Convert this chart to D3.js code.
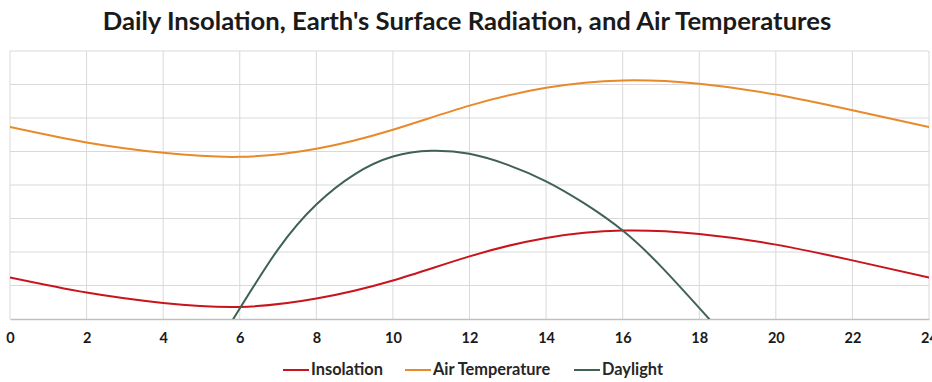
<!DOCTYPE html>
<html lang="en">
<head>
    <meta charset="UTF-8">
    <title>Daily Insolation, Earth's Surface Radiation, and Air Temperatures</title>
    <style>
        body, html {
            margin: 0;
            padding: 0;
            background-color: #fff;
            overflow: hidden;
        }
        #svg text {
            font-family: "Lato", "Open Sans", Arial, sans-serif;
        }
    </style>
</head>
<body>
    <svg id="svg" width="932" height="382"></svg>
    <script src="https://d3js.org/d3.v7.min.js"></script>
    <script>
        // data (hours of the day, relative units)
        const hourTicks = [0, 2, 4, 6, 8, 10, 12, 14, 16, 18, 20, 22, 24]
        const gridValues = [0, 1, 2, 3, 4, 5, 6, 7, 8]

        const insolationHours = [0, 2, 4, 6, 8, 10, 12, 14, 16, 18, 20, 22, 24]
        const insolation = [1.24, 0.79, 0.48, 0.36, 0.61, 1.15, 1.87, 2.42, 2.64, 2.54, 2.22, 1.75, 1.24]

        const airTempHours = [0, 2, 4, 6, 8, 10, 12, 14, 16, 18, 20, 22, 24]
        const airTemp = [5.73, 5.27, 4.96, 4.84, 5.08, 5.65, 6.37, 6.9, 7.12, 7.02, 6.7, 6.23, 5.73]

        const daylightHours = [5.83, 7, 8, 9, 10, 11, 12, 13, 14, 15, 16, 17, 18.26]
        const daylight = [0, 2.08, 3.42, 4.32, 4.85, 5.02, 4.93, 4.6, 4.11, 3.45, 2.64, 1.57, 0]

        const seriesNames = ['Insolation', 'Air Temperature', 'Daylight']
        const seriesColors = ['#c8141c', '#e8892a', '#3f6252']

        const series = [
            { name: seriesNames[0], color: seriesColors[0], pts: insolationHours.map((h, i) => [h, insolation[i]]) },
            { name: seriesNames[1], color: seriesColors[1], pts: airTempHours.map((h, i) => [h, airTemp[i]]) },
            { name: seriesNames[2], color: seriesColors[2], pts: daylightHours.map((h, i) => [h, daylight[i]]) },
        ]

        const margin = { top: 51, right: 3, bottom: 63, left: 10 }
        const W = 932, H = 382

        const svg = d3.select('#svg')

        const x = d3.scaleLinear().domain([0, 24]).range([margin.left, W - margin.right])
        const y = d3.scaleLinear().domain([0, 8]).range([H - margin.bottom, margin.top])

        // title
        const title = svg.append('text')
            .attr('x', 467)
            .attr('y', 30)
            .attr('text-anchor', 'middle')
            .attr('font-size', 20)
            .attr('font-weight', 'bold')
            .attr('fill', '#1a1a1a')
            .text("Daily Insolation, Earth's Surface Radiation, and Air Temperatures")
        // stretch to the width the title has in the picture
        const tw = title.node().getComputedTextLength()
        title.attr('font-size', 20 * 729 / tw)

        // gridlines
        const grid = svg.append('g')
        grid.selectAll('line.h')
            .data(gridValues.slice(1))
            .enter()
            .append('line')
            .attr('x1', x(0)).attr('x2', x(24))
            .attr('y1', d => y(d)).attr('y2', d => y(d))
            .attr('stroke', '#d9d9d9')
            .attr('stroke-width', 1)
        grid.selectAll('line.v')
            .data(hourTicks.slice(1))
            .enter()
            .append('line')
            .attr('x1', d => x(d)).attr('x2', d => x(d))
            .attr('y1', y(0)).attr('y2', y(8))
            .attr('stroke', '#d9d9d9')
            .attr('stroke-width', 1)

        // bottom axis
        const bottomAxis = d3.axisBottom(x).tickValues(hourTicks).tickSize(0).tickPadding(14)
        const ax = svg.append('g')
            .attr('transform', `translate(0, ${y(0)})`)
            .call(bottomAxis)
        ax.select('.domain').attr('stroke', '#bfbfbf').attr('stroke-width', 1.3)
        ax.selectAll('text')
            .attr('font-size', '14.5px')
            .attr('font-weight', 'bold')
            .attr('fill', '#1a1a1a')
            .attr('font-family', '"Lato", Arial, sans-serif')

        // left border line of plot
        svg.append('line')
            .attr('x1', x(0)).attr('x2', x(0))
            .attr('y1', y(0)).attr('y2', y(8))
            .attr('stroke', '#d9d9d9')

        svg.append('clipPath').attr('id', 'plotclip')
            .append('rect')
            .attr('x', x(0)).attr('y', y(8) - 5)
            .attr('width', x(24) - x(0)).attr('height', y(0) - y(8) + 5)

        const line = d3.line()
            .x(d => x(d[0]))
            .y(d => y(d[1]))
            .curve(d3.curveNatural)

        svg.append('g')
            .attr('clip-path', 'url(#plotclip)')
            .selectAll('path')
            .data(series)
            .enter()
            .append('path')
            .attr('d', d => line(d.pts))
            .attr('fill', 'none')
            .attr('stroke', d => d.color)
            .attr('stroke-width', 2)
            .attr('stroke-linecap', 'round')

        // legend
        const legendX = [283, 405, 574]
        const legend = svg.append('g')
        const item = legend.selectAll('g')
            .data(series)
            .enter()
            .append('g')
            .attr('transform', (d, i) => `translate(${legendX[i]}, 370)`)
        item.append('line')
            .attr('x1', 0).attr('x2', 26)
            .attr('stroke', d => d.color)
            .attr('stroke-width', 2)
        const legendText = item.append('text')
            .attr('x', 28)
            .attr('y', 5)
            .attr('font-size', '14px')
            .attr('font-weight', 'bold')
            .attr('fill', '#262626')
            .text(d => d.name)
        // widen to match the picture ("Insolation" is about 72px wide)
        const lw = legendText.node().getComputedTextLength()
        legendText.attr('font-size', 14 * 72 / lw)
    </script>
</body>
</html>
